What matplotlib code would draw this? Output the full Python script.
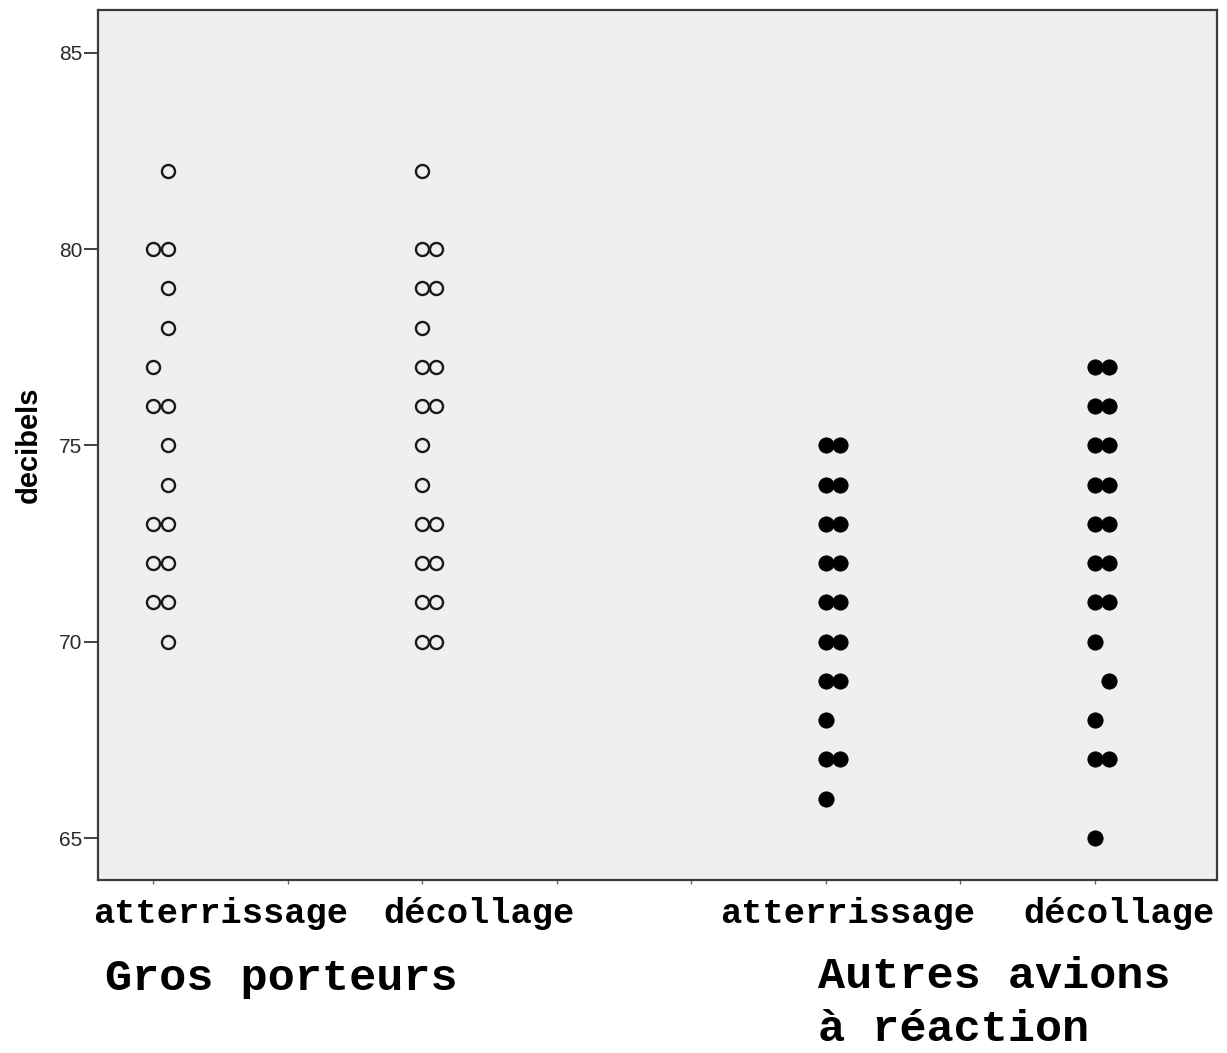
import matplotlib
matplotlib.use("Agg")
from matplotlib import pyplot as plt
from matplotlib.transforms import blended_transform_factory

# decibels, colonne gauche / colonne droite de chaque groupe
gp_atterrissage_g = [80, 77, 76, 73, 72, 71]
gp_atterrissage_d = [82, 80, 79, 78, 76, 75, 74, 73, 72, 71, 70]
gp_decollage_g = [82, 80, 79, 78, 77, 76, 75, 74, 73, 72, 71, 70]
gp_decollage_d = [80, 79, 77, 76, 73, 72, 71, 70]
ar_atterrissage_g = [75, 74, 73, 72, 71, 70, 69, 68, 67, 66]
ar_atterrissage_d = [75, 74, 73, 72, 71, 70, 69, 67]
ar_decollage_g = [77, 76, 75, 74, 73, 72, 71, 70, 68, 67, 65]
ar_decollage_d = [77, 76, 75, 74, 73, 72, 71, 69, 67]

y_ticks = [65, 70, 75, 80, 85]
x_labels = ['atterrissage', 'décollage', 'atterrissage', 'décollage']
groupes = ['Gros porteurs', 'Autres avions\nà réaction']

W, H = 1227, 1053
fig = plt.figure(figsize=(W / 100, H / 100), dpi=100)
ax = fig.add_axes([97.5 / W, 1 - 880 / H, 1119.5 / W, 870 / H])
ax.set_facecolor('#efefef')

ecart = 0.105


def colonne_creuse(x, gauche, droite):
    ax.plot([x] * len(gauche), gauche, 'o', ms=9.4, mfc='none', mec='#1a1a1a', mew=1.7)
    ax.plot([x + ecart] * len(droite), droite, 'o', ms=9.4, mfc='none', mec='#1a1a1a', mew=1.7)


def colonne_pleine(x, gauche, droite):
    ax.plot([x] * len(gauche), gauche, 'o', ms=11, mfc='black', mec='black', mew=0.6)
    ax.plot([x + ecart] * len(droite), droite, 'o', ms=11, mfc='black', mec='black', mew=0.6)


colonne_creuse(1, gp_atterrissage_g, gp_atterrissage_d)
colonne_creuse(3, gp_decollage_g, gp_decollage_d)
colonne_pleine(6, ar_atterrissage_g, ar_atterrissage_d)
colonne_pleine(8, ar_decollage_g, ar_decollage_d)

ax.set_xlim(0.584, 8.911)
ax.set_ylim(63.93, 86.095)

ax.set_yticks(y_ticks)
ax.set_yticklabels([str(v) for v in y_ticks], family='Liberation Sans', fontsize=15, color='#2a2a2a')
ax.tick_params(axis='y', length=10, width=1.3, pad=1, color='#333333')
ax.set_xticks(range(1, 9))
ax.set_xticklabels([])
ax.tick_params(axis='x', length=3, width=1, color='#666666')

ax.set_ylabel('decibels', family='Liberation Sans', fontweight='bold', fontsize=21)
ax.yaxis.set_label_coords(-0.049, 0.5)

for s in ax.spines.values():
    s.set_color('#3a3a3a')
    s.set_linewidth(1.6)

trans = blended_transform_factory(ax.transData, fig.transFigure)
for x, lab in zip([1.502, 3.424, 6.167, 8.182], x_labels):
    ax.text(x, 1 - 923 / H, lab, transform=trans, ha='center', va='baseline',
            family='Liberation Mono', fontweight='bold', fontsize=25.5)

ax.text(0.643, 1 - 990 / H, groupes[0], transform=trans, ha='left', va='baseline',
        family='Liberation Mono', fontweight='bold', fontsize=32.5)
# le second groupe tient sur deux lignes
for ligne, yb in zip(groupes[1].split('\n'), [988, 1041]):
    ax.text(5.944, 1 - yb / H, ligne, transform=trans, ha='left', va='baseline',
            family='Liberation Mono', fontweight='bold', fontsize=32.5)

fig.savefig('out.png', dpi=100, facecolor='white')
